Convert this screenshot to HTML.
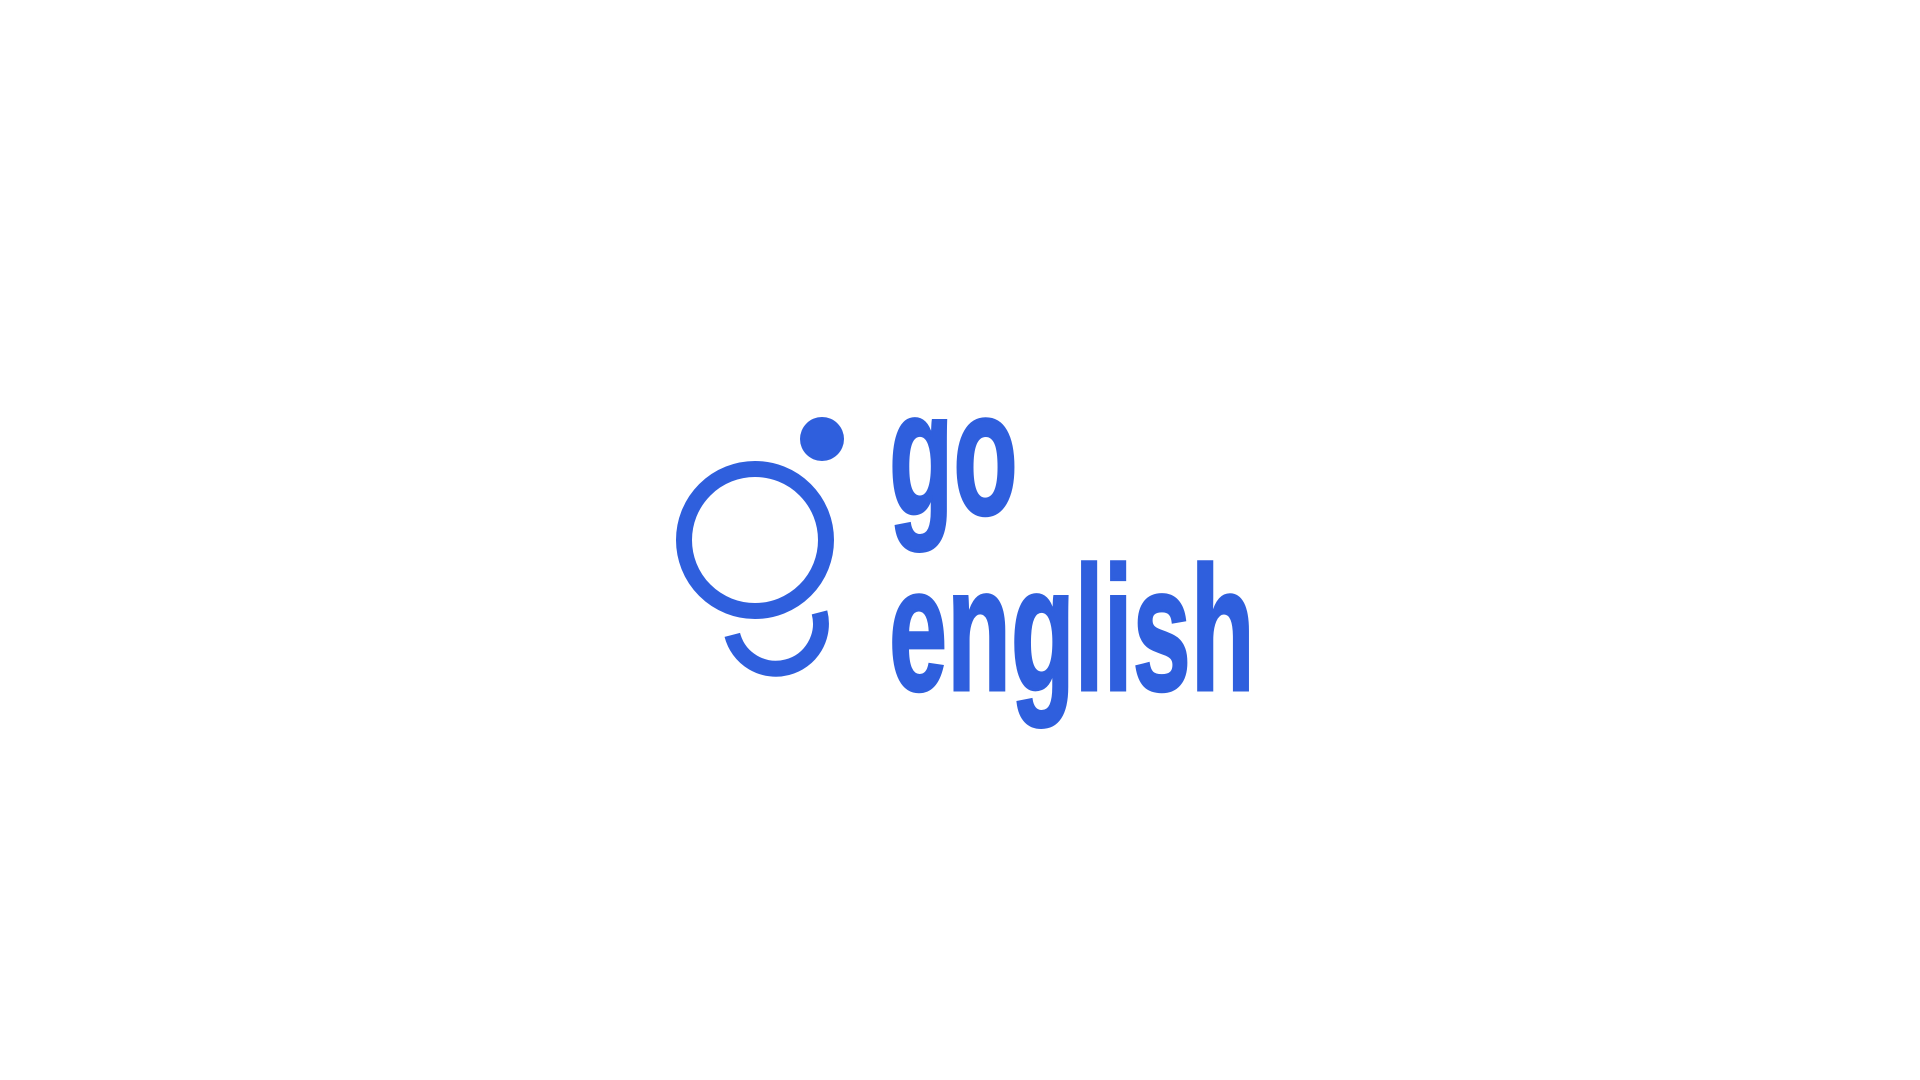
<!DOCTYPE html>
<html><head><meta charset="utf-8"><style>
html,body{margin:0;width:1920px;height:1080px;background:#fff;overflow:hidden}
svg{position:absolute;left:0;top:0}
.t{position:absolute;left:0;top:0;font-family:"Liberation Sans",sans-serif;font-weight:bold;color:#2f5fdd;font-size:177px;line-height:1;transform-origin:0 0;white-space:nowrap;-webkit-text-stroke:3px #2f5fdd}
</style></head><body>
<svg width="1920" height="1080">
<circle cx="822" cy="439" r="22" fill="#2f5fdd"/>
<circle cx="755" cy="540" r="71" fill="none" stroke="#2f5fdd" stroke-width="16"/>
<path d="M819.5 612.4 A45 45 0 1 1 732.3 634.9" fill="none" stroke="#2f5fdd" stroke-width="16"/>
</svg>
<div class="t" style="transform:translate(889px,365px) scaleX(0.595)">go</div>
<div class="t" style="transform:translate(889px,541px) scaleX(0.59)">english</div>
</body></html>
